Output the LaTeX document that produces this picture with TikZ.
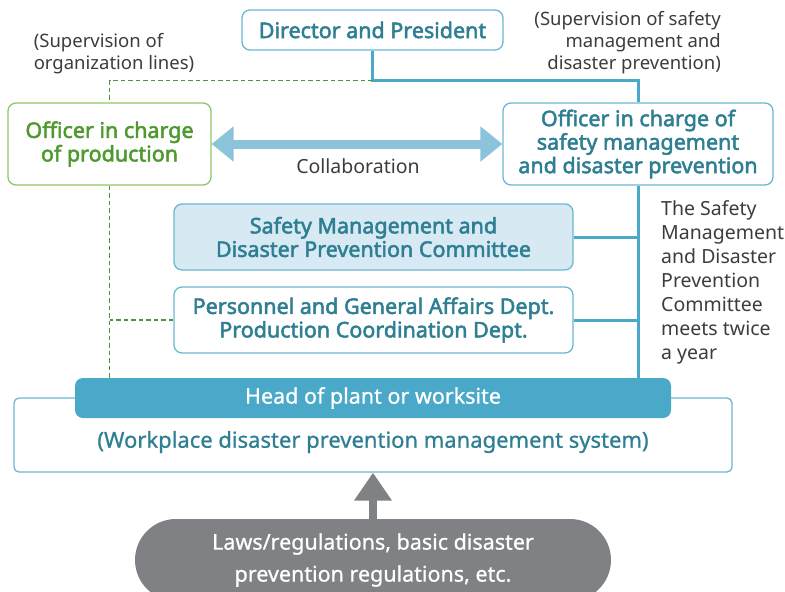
\documentclass[tikz,border=0pt]{standalone}
\usepackage{fontspec}
\setmainfont{Noto Sans}
\newfontfamily\medfont[FakeBold=0.8]{Noto Sans}
\newfontfamily\heavyfont[FakeBold=2.4]{Noto Sans}
\usetikzlibrary{arrows.meta}
\definecolor{teal}{HTML}{2F7F93}
\definecolor{lineblue}{HTML}{4AA9C9}
\definecolor{boxblue}{HTML}{6BB8D3}
\definecolor{collab}{HTML}{8BC3DA}
\definecolor{commfill}{HTML}{D7E9F2}
\definecolor{greenbox}{HTML}{8CC866}
\definecolor{greentext}{HTML}{4E9A2F}
\definecolor{greenline}{HTML}{4F962F}
\definecolor{lawgray}{HTML}{808184}
\definecolor{textgray}{HTML}{3C3C3C}
\tikzset{
  bluebox/.style={draw=boxblue, line width=1.3pt, rounded corners=8pt, fill=white,
    text=teal, font=\fontsize{21.5}{23.5}\heavyfont, align=center, inner sep=0pt},
  greenbox/.style={bluebox, draw=greenbox, text=greentext},
  note/.style={text=textgray, font=\fontsize{18.5}{22}\selectfont, inner sep=0pt},
  mainline/.style={draw=lineblue, line width=3pt},
  orgline/.style={draw=greenline, line width=1.6pt, dash pattern=on 4.5pt off 3pt},
}
\begin{document}
\begin{tikzpicture}[x=1pt,y=-1pt]
\useasboundingbox (0,0) rectangle (785,592);

% boxes
\node[bluebox, minimum width=261pt, minimum height=40pt] (dir) at (372.5,30) {Director and President};
\node[greenbox, minimum width=203pt, minimum height=82pt] (prod) at (109.5,144) {Officer in charge\\of production};
\node[bluebox, minimum width=270pt, minimum height=82pt] (safe) at (638,144) {Officer in charge of\\safety management\\and disaster prevention};
\node[bluebox, fill=commfill, minimum width=399pt, minimum height=66pt] (comm) at (373.5,237) {Safety Management and\\Disaster Prevention Committee};
\node[bluebox, minimum width=399pt, minimum height=66pt] (pers) at (373.5,320) {Personnel and General Affairs Dept.\\Production Coordination Dept.};

% plant-level system
\node[draw=boxblue, line width=1.3pt, rounded corners=5pt, fill=white, minimum width=718pt, minimum height=74pt,
  inner sep=0pt] (sys) at (373,435) {};
\node[text=teal, font=\fontsize{22}{22}\medfont, inner sep=0pt] (systext) at (373,442) {(Workplace disaster prevention management system)};
\node[fill=lineblue, rounded corners=8pt, minimum width=596pt, minimum height=40pt, inner sep=0pt,
  text=white, font=\fontsize{21.5}{22}\medfont] (head) at (373,398) {Head of plant or worksite};

% laws
\node[fill=lawgray, rounded corners=41pt, minimum width=476pt, minimum height=82pt, inner sep=0pt,
  text=white, font=\fontsize{21.5}{32}\medfont, align=center] (laws) at (373,560) {Laws/regulations, basic disaster\\prevention regulations, etc.};

% safety management lines
\coordinate (split) at ([yshift=-30pt]dir.south);
\draw[mainline] (dir.south) -- (split) -| (safe.north);
\draw[mainline] (safe.south) -- (safe.south |- head.north);
\draw[mainline] (comm.east) -- (safe.south |- comm.east);
\draw[mainline] (pers.east) -- (safe.south |- pers.east);

% organization lines
\draw[orgline] (split) -| (prod.north);
\draw[orgline] (prod.south) -- (prod.south |- head.north);
\draw[orgline] (pers.west) -- (prod.south |- pers.west);

% collaboration
\draw[draw=collab, line width=9pt, {Triangle[width=34pt,length=22pt]}-{Triangle[width=34pt,length=22pt]}]
  (prod.east) -- (safe.west);
\node[note, font=\fontsize{19.5}{22}\selectfont] (collabtext) at (358,166) {Collaboration};

% laws feed the system
\draw[draw=lawgray, line width=8pt, -{Triangle[width=36pt,length=28pt]}] (laws.north) -- (sys.south);

% annotations
\node[note, align=left] (orgnote) at (114,54) {(Supervision of\\organization lines)};
\node[note, align=right, anchor=north east] (safenote) at (721,11) {(Supervision of safety\\management and\\disaster prevention)};
\node[note, align=left, anchor=north west, font=\fontsize{19.5}{24}\selectfont] (meetnote) at (661,200)
  {The Safety\\Management\\and Disaster\\Prevention\\Committee\\meets twice\\a year};
\end{tikzpicture}
\end{document}
